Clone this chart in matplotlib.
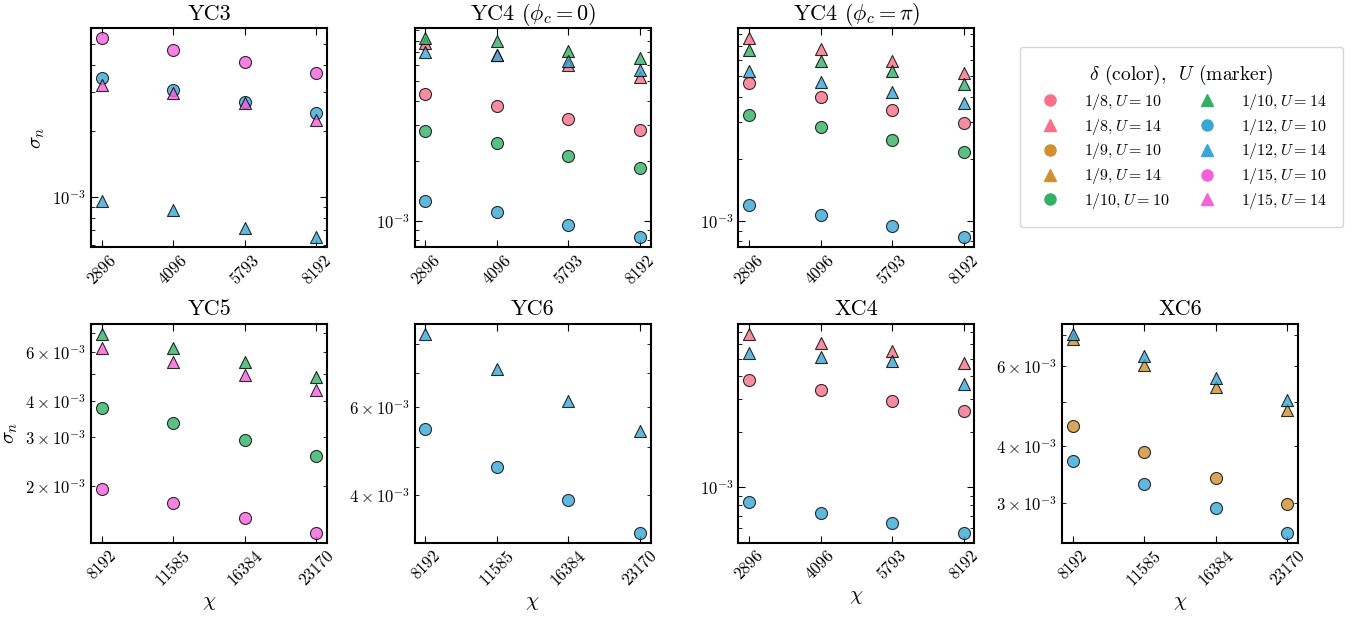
import matplotlib.pyplot as plt
from matplotlib.lines import Line2D
from matplotlib.ticker import NullLocator

plt.rcParams["font.family"] = "serif"
plt.rcParams["font.serif"] = ["cmr10"]
plt.rcParams["mathtext.fontset"] = "cm"
plt.rcParams["axes.formatter.use_mathtext"] = True

# bond dimensions
chi_small = [2896, 4096, 5793, 8192]
chi_large = [8192, 11585, 16384, 23170]

# delta -> colour (husl)
deltas = ["1/8", "1/9", "1/10", "1/12", "1/15"]
colors = ["#f77189", "#ce9032", "#32b166", "#39a7d5", "#f561dd"]
markers = {10: "o", 14: "^"}

# sigma_n
yc3_12_u10 = [3.47e-3, 3.07e-3, 2.70e-3, 2.42e-3]
yc3_12_u14 = [9.52e-4, 8.71e-4, 7.15e-4, 6.50e-4]
yc3_15_u10 = [5.31e-3, 4.70e-3, 4.14e-3, 3.68e-3]
yc3_15_u14 = [3.24e-3, 2.99e-3, 2.67e-3, 2.25e-3]

yc4a_8_u10 = [4.29e-3, 3.77e-3, 3.25e-3, 2.84e-3]
yc4a_8_u14 = [7.73e-3, 6.74e-3, 6.00e-3, 5.25e-3]
yc4a_10_u10 = [2.81e-3, 2.44e-3, 2.12e-3, 1.83e-3]
yc4a_10_u14 = [8.23e-3, 7.97e-3, 7.09e-3, 6.56e-3]
yc4a_12_u10 = [1.249e-3, 1.099e-3, 9.54e-4, 8.23e-4]
yc4a_12_u14 = [7.01e-3, 6.74e-3, 6.31e-3, 5.66e-3]

yc4b_8_u10 = [4.65e-3, 4.00e-3, 3.45e-3, 2.99e-3]
yc4b_8_u14 = [7.66e-3, 6.77e-3, 5.92e-3, 5.17e-3]
yc4b_10_u10 = [3.25e-3, 2.85e-3, 2.48e-3, 2.17e-3]
yc4b_10_u14 = [6.69e-3, 5.96e-3, 5.29e-3, 4.62e-3]
yc4b_12_u10 = [1.197e-3, 1.074e-3, 9.53e-4, 8.35e-4]
yc4b_12_u14 = [5.29e-3, 4.72e-3, 4.19e-3, 3.74e-3]

yc5_10_u10 = [3.79e-3, 3.35e-3, 2.92e-3, 2.56e-3]
yc5_10_u14 = [6.95e-3, 6.19e-3, 5.50e-3, 4.89e-3]
yc5_15_u10 = [1.96e-3, 1.75e-3, 1.55e-3, 1.37e-3]
yc5_15_u14 = [6.18e-3, 5.50e-3, 4.96e-3, 4.39e-3]

yc6_12_u10 = [5.41e-3, 4.56e-3, 3.91e-3, 3.37e-3]
yc6_12_u14 = [8.38e-3, 7.14e-3, 6.17e-3, 5.37e-3]

xc4_8_u10 = [3.83e-3, 3.36e-3, 2.93e-3, 2.58e-3]
xc4_8_u14 = [6.85e-3, 6.08e-3, 5.47e-3, 4.71e-3]
xc4_12_u10 = [8.26e-4, 7.21e-4, 6.35e-4, 5.64e-4]
xc4_12_u14 = [5.40e-3, 5.09e-3, 4.84e-3, 3.62e-3]

xc6_9_u10 = [4.43e-3, 3.88e-3, 3.41e-3, 2.98e-3]
xc6_9_u14 = [6.86e-3, 6.04e-3, 5.39e-3, 4.81e-3]
xc6_12_u10 = [3.72e-3, 3.30e-3, 2.92e-3, 2.58e-3]
xc6_12_u14 = [7.07e-3, 6.32e-3, 5.66e-3, 5.06e-3]

panels = [
    ("YC3", 0, 0, chi_small, [("1/12", 10, yc3_12_u10), ("1/12", 14, yc3_12_u14),
                              ("1/15", 10, yc3_15_u10), ("1/15", 14, yc3_15_u14)]),
    (r"YC4 ($\phi_c=0$)", 0, 1, chi_small, [("1/8", 10, yc4a_8_u10), ("1/8", 14, yc4a_8_u14),
                                             ("1/10", 10, yc4a_10_u10), ("1/10", 14, yc4a_10_u14),
                                             ("1/12", 10, yc4a_12_u10), ("1/12", 14, yc4a_12_u14)]),
    (r"YC4 ($\phi_c=\pi$)", 0, 2, chi_small, [("1/8", 10, yc4b_8_u10), ("1/8", 14, yc4b_8_u14),
                                               ("1/10", 10, yc4b_10_u10), ("1/10", 14, yc4b_10_u14),
                                               ("1/12", 10, yc4b_12_u10), ("1/12", 14, yc4b_12_u14)]),
    ("YC5", 1, 0, chi_large, [("1/10", 10, yc5_10_u10), ("1/10", 14, yc5_10_u14),
                              ("1/15", 10, yc5_15_u10), ("1/15", 14, yc5_15_u14)]),
    ("YC6", 1, 1, chi_large, [("1/12", 10, yc6_12_u10), ("1/12", 14, yc6_12_u14)]),
    ("XC4", 1, 2, chi_small, [("1/8", 10, xc4_8_u10), ("1/8", 14, xc4_8_u14),
                              ("1/12", 10, xc4_12_u10), ("1/12", 14, xc4_12_u14)]),
    ("XC6", 1, 3, chi_large, [("1/9", 10, xc6_9_u10), ("1/9", 14, xc6_9_u14),
                              ("1/12", 10, xc6_12_u10), ("1/12", 14, xc6_12_u14)]),
]

fig, axes = plt.subplots(2, 4, figsize=(13.64, 6.24), dpi=100)
plt.subplots_adjust(left=0.0667, right=0.9516, top=0.955, bottom=0.130,
                    wspace=0.37, hspace=0.347)
axes[0, 3].axis("off")

for title, r, c, chi, series in panels:
    ax = axes[r, c]
    for d, U, vals in series:
        ax.scatter(chi, vals, color=colors[deltas.index(d)], marker=markers[U],
                   s=75, edgecolors="k", linewidths=0.8, alpha=0.8, zorder=3)
    ax.set_xscale("log")
    ax.set_yscale("log")
    ax.set_xticks(chi)
    ax.set_xticklabels([str(v) for v in chi], rotation=45)
    ax.xaxis.set_minor_locator(NullLocator())
    ax.tick_params(which="both", direction="in", top=True, right=True, labelsize=12)
    ax.tick_params(which="major", length=5)
    ax.tick_params(which="minor", length=3)
    for sp in ax.spines.values():
        sp.set_linewidth(1.5)
    ax.set_title(title, fontsize=16)
    if c == 0:
        ax.set_ylabel(r"$\sigma_n$", fontsize=15)
    if r == 1:
        ax.set_xlabel(r"$\chi$", fontsize=15)

handles = []
for d, col in zip(deltas, colors):
    for U in (10, 14):
        handles.append(Line2D([], [], linestyle="none", marker=markers[U], color=col,
                              markersize=8, label=rf"${d}, U={U}$"))

fig.legend(handles=handles, loc="upper left", bbox_to_anchor=(1020 / 1364, 1 - 47 / 624),
           ncol=2, fontsize=11.5, title=r"$\delta$ (color),  $U$ (marker)",
           title_fontsize=14, handlelength=1.75, handletextpad=1.25, columnspacing=1.5,
           borderpad=1.0, labelspacing=0.3, borderaxespad=0)

plt.savefig("out.png")
